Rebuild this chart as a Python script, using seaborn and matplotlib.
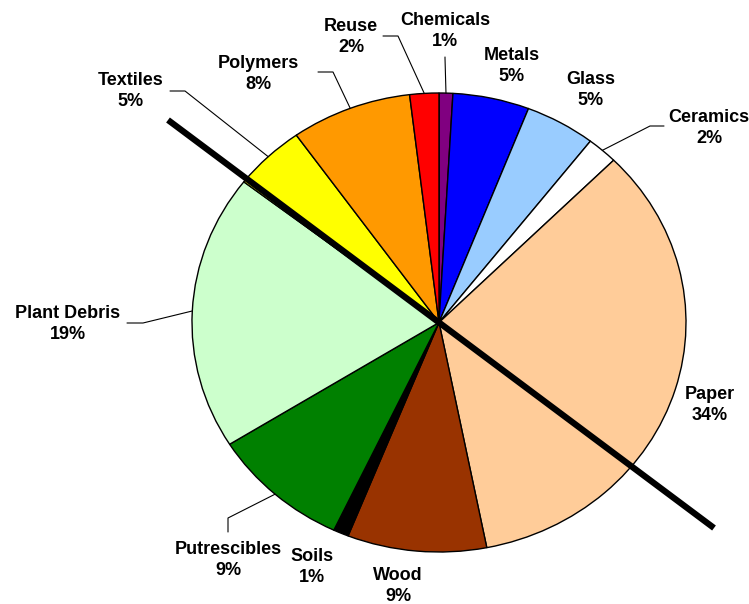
import numpy as np
import matplotlib
matplotlib.use("Agg")
import matplotlib.pyplot as plt
import seaborn as sns

# data (clockwise from 12 o'clock), shares
categories = ["Chemicals", "Metals", "Glass", "Ceramics", "Paper", "Wood",
              "Soils", "Putrescibles", "Plant Debris", "Textiles", "Polymers", "Reuse"]
shares = [0.9, 5.0, 4.6, 2.0, 34.4, 9.1, 1.0, 9.1, 19.4, 4.7, 7.9, 1.9]
colors = ["#800080", "#0000FF", "#99CCFF", "#FFFFFF", "#FFCC99", "#993300",
          "#000000", "#008000", "#CCFFCC", "#FFFF00", "#FF9900", "#FF0000"]

# label layout (pixel positions of the text block centres, 749x604 canvas)
label_pos = {
    "Chemicals": (445, 31), "Metals": (512, 66), "Glass": (591, 90),
    "Ceramics": (709, 128), "Paper": (710, 405), "Wood": (398, 586),
    "Soils": (312, 567), "Putrescibles": (228, 560), "Plant Debris": (68, 324),
    "Textiles": (131, 91), "Polymers": (258, 74), "Reuse": (351, 37),
}
# leader lines: start point and elbow point (pixels); end is on wedge edge
leaders = {
    "Reuse": [(383, 36), (398, 36)],
    "Chemicals": [(445, 57), (445, 58)],
    "Polymers": [(318, 72), (333, 72)],
    "Textiles": [(170, 91), (185, 91)],
    "Ceramics": [(664, 126), (650, 126)],
    "Plant Debris": [(127, 323), (143, 323)],
    "Putrescibles": [(228, 532), (228, 518)],
}

sns.set_style("white")
plt.rcParams["font.family"] = ["Liberation Sans", "DejaVu Sans"]
plt.rcParams["text.color"] = "black"

W, H = 749, 604
CX, CY, RX, RY = 439, 322.5, 247, 229.5


def px(p):
    return ((p[0] - CX) / RX, (CY - p[1]) / RY)


fig = plt.figure(figsize=(W / 100, H / 100), dpi=100)
ax = fig.add_axes([0, 0, 1, 1])
wedges, _ = ax.pie(shares, colors=colors, startangle=90, counterclock=False,
                   wedgeprops=dict(edgecolor="black", linewidth=1.0))
ax.set_aspect("auto")
ax.set_xlim(px((0, 0))[0], px((W, 0))[0])
ax.set_ylim(px((0, H))[1], px((0, 0))[1])
ax.axis("off")

cum = np.cumsum([0] + shares)
for i, name in enumerate(categories):
    x, y = px(label_pos[name])
    ax.text(x, y, f"{name}\n{round(shares[i])}%", ha="center", va="center",
            fontsize=13, fontweight="bold", linespacing=1.25, color="black")
    if name in leaders:
        mid = np.deg2rad((cum[i] + cum[i + 1]) / 2 / 100 * 360)
        ex, ey = np.sin(mid), np.cos(mid)
        pts = [px(p) for p in leaders[name]] + [(ex, ey)]
        ax.plot([p[0] for p in pts], [p[1] for p in pts], color="black", lw=0.8)

# thick diagonal line through the centre
a = px((168, 120))
b = px((714, 528))
ax.plot([a[0], b[0]], [a[1], b[1]], color="black", lw=4.5, solid_capstyle="butt")

fig.savefig("out.png", dpi=100)
